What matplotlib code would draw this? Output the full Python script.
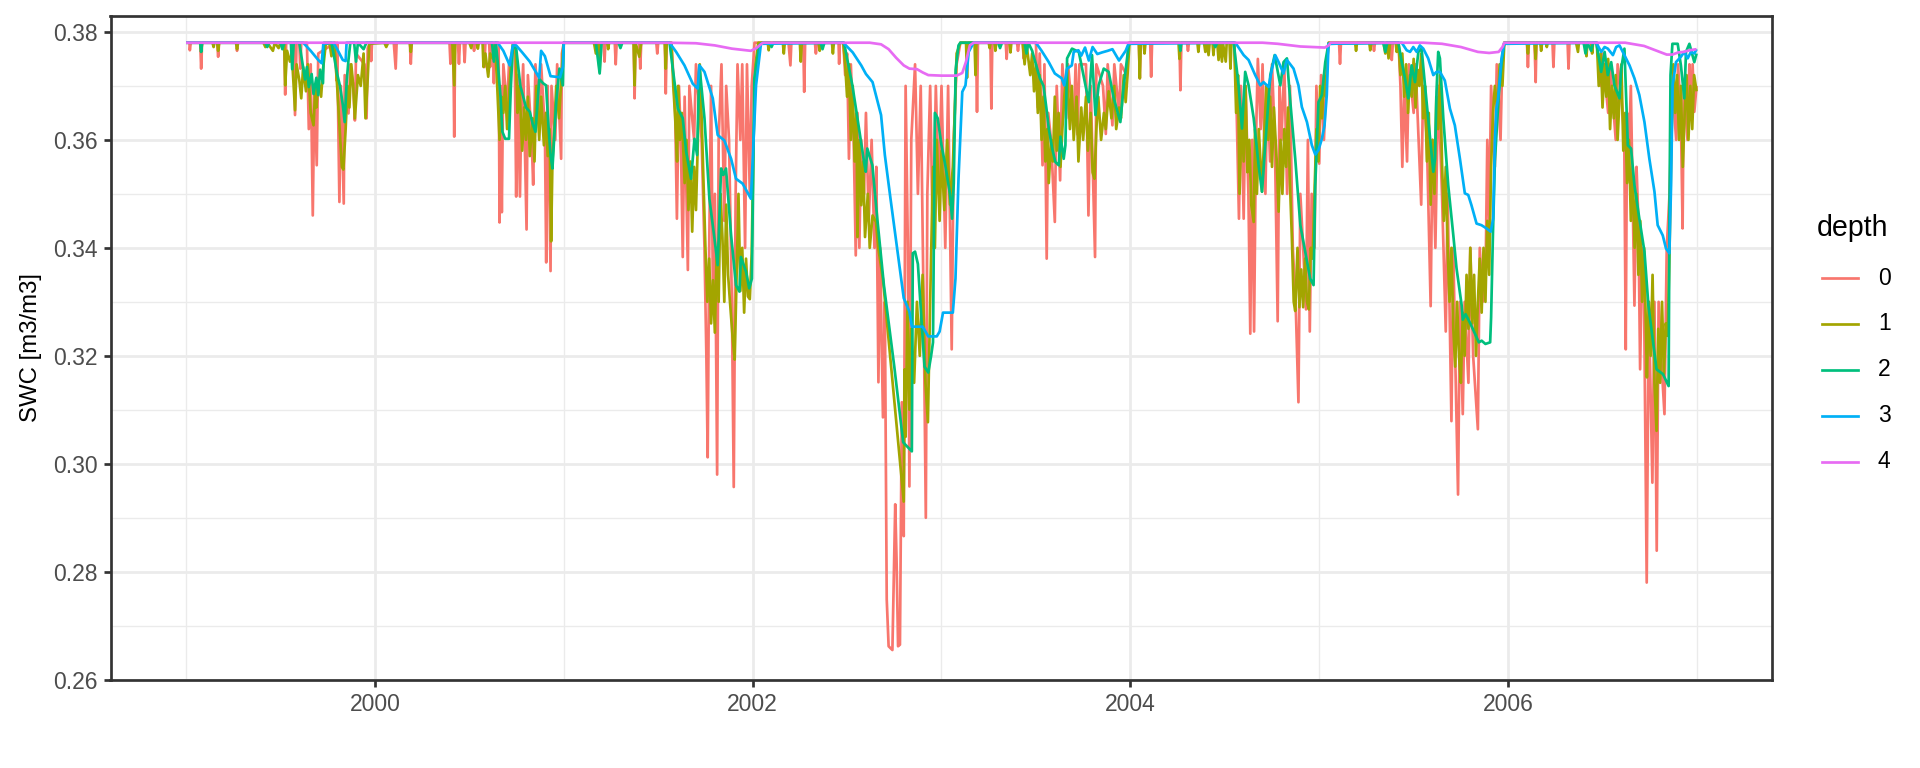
import matplotlib
matplotlib.use("Agg")
import matplotlib.pyplot as plt
from matplotlib.lines import Line2D
from matplotlib.ticker import FixedLocator, FixedFormatter

plt.rcParams['font.family'] = ['Liberation Sans', 'DejaVu Sans']

depth_labels = ["0", "1", "2", "3", "4"]
colors = ["#F8766D", "#A3A500", "#00BF7D", "#00B0F6", "#E76BF3"]
x_major = [2000, 2002, 2004, 2006]
x_minor = [1999, 2001, 2003, 2005, 2007]
y_major = [0.26, 0.28, 0.30, 0.32, 0.34, 0.36, 0.38]
y_minor = [0.27, 0.29, 0.31, 0.33, 0.35, 0.37]

# (decimal year, SWC)
depth0 = [
    (1999.0, 0.378), (1999.018, 0.378), (1999.02, 0.3766), (1999.025, 0.378), (1999.075, 0.378), (1999.08, 0.3732), (1999.085, 0.378),
    (1999.165, 0.378), (1999.17, 0.3754), (1999.175, 0.378), (1999.265, 0.378), (1999.27, 0.3765), (1999.275, 0.378),
    (1999.52, 0.378), (1999.525, 0.3684), (1999.53, 0.378), (1999.57, 0.378), (1999.577, 0.3646), (1999.585, 0.378),
    (1999.60, 0.378), (1999.605, 0.3732), (1999.61, 0.378), (1999.64, 0.378), (1999.65, 0.3620), (1999.66, 0.3740),
    (1999.671, 0.3460), (1999.68, 0.3700), (1999.692, 0.3553), (1999.70, 0.3760), (1999.79, 0.378), (1999.797, 0.3710),
    (1999.80, 0.378), (1999.812, 0.3485), (1999.82, 0.3700), (1999.835, 0.3482), (1999.84, 0.3720), (1999.86, 0.3649),
    (1999.87, 0.3740), (1999.885, 0.3700), (1999.894, 0.3636), (1999.90, 0.3760), (1999.945, 0.3740), (1999.956, 0.3640),
    (1999.962, 0.3770), (1999.975, 0.378), (1999.98, 0.3746), (1999.985, 0.378),
    (2000.10, 0.378), (2000.11, 0.3732), (2000.115, 0.378), (2000.185, 0.378), (2000.19, 0.3741), (2000.195, 0.378),
    (2000.395, 0.378), (2000.40, 0.3741), (2000.405, 0.378), (2000.415, 0.378), (2000.42, 0.3606), (2000.425, 0.378),
    (2000.44, 0.378), (2000.445, 0.3741), (2000.45, 0.378), (2000.47, 0.378), (2000.475, 0.3744), (2000.48, 0.378),
    (2000.52, 0.378), (2000.525, 0.3765), (2000.53, 0.378), (2000.575, 0.378), (2000.58, 0.3735), (2000.585, 0.378),
    (2000.605, 0.378), (2000.61, 0.3735), (2000.615, 0.378), (2000.625, 0.378), (2000.63, 0.3705), (2000.635, 0.378),
    (2000.655, 0.378), (2000.66, 0.3447), (2000.665, 0.3700), (2000.672, 0.3466), (2000.68, 0.3740), (2000.70, 0.3660),
    (2000.71, 0.3740), (2000.74, 0.378), (2000.748, 0.3495), (2000.755, 0.3720), (2000.768, 0.3495), (2000.775, 0.3650),
    (2000.785, 0.3740), (2000.803, 0.3434), (2000.81, 0.3720), (2000.83, 0.3600), (2000.838, 0.3517), (2000.85, 0.3740),
    (2000.87, 0.3640), (2000.88, 0.3740), (2000.90, 0.3620), (2000.907, 0.3373), (2000.915, 0.3700), (2000.93, 0.3357),
    (2000.935, 0.3700), (2000.955, 0.3600), (2000.965, 0.3740), (2000.986, 0.3565), (2000.99, 0.3760), (2001.0, 0.378),
    (2001.18, 0.378), (2001.19, 0.3740), (2001.195, 0.378), (2001.21, 0.378), (2001.216, 0.3745), (2001.22, 0.378),
    (2001.27, 0.378), (2001.275, 0.3740), (2001.28, 0.378), (2001.37, 0.378), (2001.375, 0.3677), (2001.38, 0.378),
    (2001.40, 0.378), (2001.405, 0.3732), (2001.41, 0.378), (2001.49, 0.378), (2001.495, 0.3760), (2001.50, 0.378),
    (2001.535, 0.378), (2001.54, 0.3686), (2001.545, 0.378),
    (2001.57, 0.378), (2001.58, 0.3720), (2001.59, 0.3650), (2001.599, 0.3454), (2001.61, 0.3700), (2001.62, 0.3600),
    (2001.63, 0.3383), (2001.64, 0.3680), (2001.657, 0.3359), (2001.665, 0.3700), (2001.69, 0.3600), (2001.70, 0.3740),
    (2001.73, 0.3600), (2001.745, 0.3400), (2001.755, 0.3200), (2001.762, 0.3012), (2001.77, 0.3400), (2001.78, 0.3700),
    (2001.79, 0.3300), (2001.80, 0.3500), (2001.812, 0.2980), (2001.82, 0.3600), (2001.835, 0.3740), (2001.85, 0.3450),
    (2001.86, 0.3700), (2001.875, 0.3600), (2001.89, 0.3300), (2001.90, 0.2957), (2001.91, 0.3500), (2001.92, 0.3740),
    (2001.935, 0.3600), (2001.945, 0.3740), (2001.96, 0.3400), (2001.97, 0.3740), (2001.985, 0.3500), (2001.995, 0.3700),
    (2002.01, 0.378),
    (2002.19, 0.378), (2002.20, 0.3738), (2002.205, 0.378), (2002.268, 0.378), (2002.273, 0.3689), (2002.278, 0.378),
    (2002.33, 0.378), (2002.335, 0.3760), (2002.34, 0.378), (2002.455, 0.378), (2002.458, 0.3741), (2002.462, 0.378),
    (2002.48, 0.378), (2002.49, 0.3720), (2002.50, 0.3760), (2002.51, 0.3565), (2002.52, 0.3740), (2002.535, 0.3600),
    (2002.546, 0.3386), (2002.555, 0.3650), (2002.565, 0.3400), (2002.575, 0.3600), (2002.59, 0.3500), (2002.60, 0.3650),
    (2002.615, 0.3450), (2002.63, 0.3600), (2002.645, 0.3400), (2002.655, 0.3550), (2002.666, 0.3151), (2002.675, 0.3400),
    (2002.69, 0.3086), (2002.70, 0.3300), (2002.71, 0.2749), (2002.72, 0.2662), (2002.74, 0.2655), (2002.755, 0.2925),
    (2002.762, 0.2824), (2002.77, 0.2662), (2002.78, 0.2665), (2002.79, 0.3114), (2002.80, 0.2866), (2002.81, 0.3700),
    (2002.822, 0.3400), (2002.83, 0.2958), (2002.84, 0.3600), (2002.86, 0.3740), (2002.875, 0.3500), (2002.89, 0.3700),
    (2002.905, 0.3300), (2002.917, 0.2900), (2002.925, 0.3500), (2002.94, 0.3700), (2002.955, 0.3400), (2002.97, 0.3700),
    (2002.985, 0.3500), (2003.00, 0.3700), (2003.02, 0.3400), (2003.035, 0.3700), (2003.054, 0.3212), (2003.065, 0.3600),
    (2003.08, 0.3740), (2003.10, 0.378),
    (2003.183, 0.378), (2003.188, 0.3652), (2003.193, 0.378), (2003.259, 0.378), (2003.264, 0.3658), (2003.269, 0.378),
    (2003.34, 0.378), (2003.345, 0.3750), (2003.35, 0.378), (2003.40, 0.378), (2003.405, 0.3765), (2003.41, 0.378),
    (2003.43, 0.378), (2003.435, 0.3751), (2003.44, 0.378), (2003.50, 0.378), (2003.51, 0.3660), (2003.52, 0.3760),
    (2003.535, 0.3553), (2003.545, 0.3740), (2003.557, 0.3380), (2003.565, 0.3650), (2003.58, 0.3600), (2003.60, 0.3448),
    (2003.61, 0.3700), (2003.628, 0.3525), (2003.64, 0.3740), (2003.66, 0.3640), (2003.67, 0.3740), (2003.70, 0.3618),
    (2003.71, 0.3740), (2003.72, 0.3610), (2003.73, 0.3740), (2003.765, 0.3740), (2003.778, 0.3460), (2003.79, 0.3700),
    (2003.813, 0.3383), (2003.82, 0.3740), (2003.855, 0.3700), (2003.87, 0.3611), (2003.88, 0.3740), (2003.905, 0.3627),
    (2003.915, 0.3740), (2003.94, 0.3650), (2003.95, 0.3740), (2003.98, 0.3720), (2003.99, 0.378),
    (2004.045, 0.378), (2004.05, 0.3714), (2004.055, 0.378), (2004.105, 0.378), (2004.11, 0.3717), (2004.115, 0.378),
    (2004.26, 0.378), (2004.265, 0.3692), (2004.27, 0.378), (2004.30, 0.378), (2004.305, 0.3765), (2004.31, 0.378),
    (2004.55, 0.378), (2004.56, 0.3700), (2004.575, 0.3454), (2004.585, 0.3700), (2004.60, 0.3454), (2004.61, 0.3700),
    (2004.625, 0.3500), (2004.635, 0.3241), (2004.645, 0.3600), (2004.655, 0.3245), (2004.665, 0.3600), (2004.675, 0.3750),
    (2004.69, 0.3620), (2004.70, 0.3740), (2004.715, 0.3500), (2004.725, 0.3700), (2004.74, 0.3560), (2004.75, 0.3740),
    (2004.765, 0.3600), (2004.78, 0.3264), (2004.79, 0.3700), (2004.80, 0.3600), (2004.815, 0.3740), (2004.83, 0.3500),
    (2004.845, 0.3700), (2004.86, 0.3400), (2004.875, 0.3300), (2004.89, 0.3114), (2004.90, 0.3500), (2004.915, 0.3400),
    (2004.93, 0.3286), (2004.94, 0.3600), (2004.95, 0.3245), (2004.96, 0.3500), (2004.975, 0.3400), (2004.985, 0.3700),
    (2005.00, 0.3556), (2005.01, 0.3720), (2005.025, 0.3600), (2005.04, 0.3740), (2005.05, 0.378),
    (2005.105, 0.378), (2005.11, 0.3741), (2005.115, 0.378), (2005.285, 0.378), (2005.29, 0.3765), (2005.295, 0.378),
    (2005.38, 0.378), (2005.384, 0.3748), (2005.39, 0.378),
    (2005.42, 0.378), (2005.43, 0.3700), (2005.44, 0.3550), (2005.45, 0.3700), (2005.465, 0.3560), (2005.475, 0.3740),
    (2005.50, 0.3650), (2005.51, 0.3740), (2005.54, 0.3480), (2005.55, 0.3700), (2005.57, 0.3600), (2005.59, 0.3292),
    (2005.60, 0.3600), (2005.615, 0.3400), (2005.63, 0.3700), (2005.65, 0.3500), (2005.67, 0.3245), (2005.68, 0.3500),
    (2005.70, 0.3079), (2005.71, 0.3400), (2005.72, 0.3200), (2005.735, 0.2943), (2005.745, 0.3300), (2005.76, 0.3092),
    (2005.77, 0.3300), (2005.79, 0.3150), (2005.80, 0.3400), (2005.815, 0.3200), (2005.84, 0.3064), (2005.85, 0.3400),
    (2005.865, 0.3300), (2005.88, 0.3330), (2005.89, 0.3600), (2005.90, 0.3450), (2005.91, 0.3700), (2005.93, 0.3550),
    (2005.94, 0.3740), (2005.96, 0.3600), (2005.97, 0.3760), (2005.98, 0.378),
    (2006.10, 0.378), (2006.105, 0.3735), (2006.11, 0.378), (2006.14, 0.378), (2006.146, 0.3707), (2006.15, 0.378),
    (2006.235, 0.378), (2006.24, 0.3735), (2006.245, 0.378), (2006.315, 0.378), (2006.32, 0.3732), (2006.325, 0.378),
    (2006.47, 0.378), (2006.49, 0.3700), (2006.50, 0.3760), (2006.53, 0.3650), (2006.54, 0.3740), (2006.57, 0.3600),
    (2006.58, 0.3740), (2006.60, 0.3680), (2006.615, 0.3606), (2006.623, 0.3212), (2006.63, 0.3650), (2006.64, 0.3578),
    (2006.65, 0.3700), (2006.669, 0.3293), (2006.68, 0.3550), (2006.69, 0.3450), (2006.699, 0.3175), (2006.71, 0.3400),
    (2006.72, 0.3300), (2006.734, 0.2780), (2006.745, 0.3300), (2006.764, 0.2965), (2006.775, 0.3300), (2006.787, 0.2839),
    (2006.797, 0.3300), (2006.81, 0.3200), (2006.828, 0.3092), (2006.84, 0.3400), (2006.855, 0.3500), (2006.87, 0.3700),
    (2006.89, 0.3600), (2006.90, 0.3740), (2006.915, 0.3640), (2006.924, 0.3436), (2006.93, 0.3700), (2006.95, 0.3600),
    (2006.96, 0.3740), (2006.968, 0.3655), (2006.977, 0.3740), (2006.986, 0.3652), (2006.998, 0.3700),
]

depth1 = [
    (1999.0, 0.378), (1999.075, 0.378), (1999.08, 0.3763), (1999.085, 0.378), (1999.14, 0.378), (1999.146, 0.3772),
    (1999.15, 0.378), (1999.165, 0.378), (1999.17, 0.3765), (1999.175, 0.378), (1999.265, 0.378), (1999.27, 0.3768),
    (1999.275, 0.378), (1999.41, 0.378), (1999.42, 0.3772), (1999.43, 0.378), (1999.46, 0.3765), (1999.47, 0.378),
    (1999.49, 0.3770), (1999.50, 0.378), (1999.52, 0.378), (1999.525, 0.3701), (1999.535, 0.3765), (1999.55, 0.3745),
    (1999.56, 0.3760), (1999.577, 0.3655), (1999.585, 0.3740), (1999.60, 0.3710), (1999.61, 0.3677), (1999.62, 0.3735),
    (1999.635, 0.3690), (1999.645, 0.3740), (1999.66, 0.3650), (1999.675, 0.3627), (1999.685, 0.3700), (1999.69, 0.3660),
    (1999.70, 0.3710), (1999.715, 0.3680), (1999.725, 0.3730), (1999.74, 0.3778), (1999.76, 0.3778), (1999.77, 0.3755),
    (1999.785, 0.378), (1999.80, 0.3700), (1999.81, 0.3640), (1999.825, 0.3550), (1999.833, 0.3545), (1999.845, 0.3620),
    (1999.855, 0.3700), (1999.865, 0.3660), (1999.875, 0.3740), (1999.885, 0.3700), (1999.894, 0.3640), (1999.91, 0.3720),
    (1999.925, 0.3700), (1999.94, 0.3760), (1999.95, 0.3640), (1999.96, 0.3700), (1999.97, 0.3778),
    (2000.05, 0.378), (2000.06, 0.3772), (2000.07, 0.378), (2000.185, 0.378), (2000.19, 0.3763), (2000.195, 0.378),
    (2000.41, 0.378), (2000.42, 0.3701), (2000.425, 0.378), (2000.50, 0.378), (2000.51, 0.3770), (2000.515, 0.378),
    (2000.54, 0.378), (2000.545, 0.3769), (2000.55, 0.378), (2000.57, 0.378), (2000.575, 0.3735), (2000.585, 0.3760),
    (2000.60, 0.3717), (2000.61, 0.3760), (2000.625, 0.3750), (2000.635, 0.3778), (2000.645, 0.3720), (2000.66, 0.3600),
    (2000.67, 0.3680), (2000.68, 0.3650), (2000.69, 0.3700), (2000.70, 0.3620), (2000.71, 0.3680), (2000.72, 0.3740),
    (2000.73, 0.3778), (2000.745, 0.3770), (2000.755, 0.3650), (2000.765, 0.3700), (2000.78, 0.3580), (2000.79, 0.3660),
    (2000.80, 0.3600), (2000.81, 0.3680), (2000.82, 0.3570), (2000.835, 0.3640), (2000.845, 0.3560), (2000.855, 0.3700),
    (2000.87, 0.3600), (2000.88, 0.3680), (2000.895, 0.3590), (2000.905, 0.3650), (2000.915, 0.3570), (2000.925, 0.3620),
    (2000.933, 0.3412), (2000.94, 0.3560), (2000.95, 0.3620), (2000.96, 0.3700), (2000.975, 0.3640), (2000.985, 0.3700),
    (2000.995, 0.3760), (2001.0, 0.378),
    (2001.16, 0.378), (2001.17, 0.3760), (2001.18, 0.378), (2001.19, 0.3726), (2001.195, 0.378), (2001.23, 0.378),
    (2001.235, 0.3768), (2001.24, 0.378), (2001.37, 0.378), (2001.375, 0.3701), (2001.38, 0.378), (2001.40, 0.3754),
    (2001.41, 0.378), (2001.535, 0.378), (2001.54, 0.3732), (2001.545, 0.378),
    (2001.57, 0.378), (2001.58, 0.3700), (2001.59, 0.3640), (2001.60, 0.3560), (2001.605, 0.3700), (2001.615, 0.3600),
    (2001.625, 0.3650), (2001.64, 0.3520), (2001.65, 0.3600), (2001.66, 0.3470), (2001.67, 0.3560), (2001.68, 0.3430),
    (2001.69, 0.3550), (2001.70, 0.3470), (2001.71, 0.3600), (2001.72, 0.3740), (2001.73, 0.3640), (2001.74, 0.3520),
    (2001.75, 0.3400), (2001.76, 0.3300), (2001.77, 0.3380), (2001.78, 0.3260), (2001.79, 0.3340), (2001.80, 0.3243),
    (2001.81, 0.3400), (2001.82, 0.3300), (2001.83, 0.3500), (2001.84, 0.3420), (2001.85, 0.3300), (2001.86, 0.3480),
    (2001.87, 0.3350), (2001.88, 0.3300), (2001.895, 0.3230), (2001.905, 0.3193), (2001.915, 0.3350), (2001.925, 0.3500),
    (2001.935, 0.3320), (2001.945, 0.3400), (2001.955, 0.3280), (2001.965, 0.3380), (2001.975, 0.3310), (2001.985, 0.3305),
    (2001.995, 0.3390), (2002.005, 0.3600), (2002.015, 0.3740), (2002.03, 0.378),
    (2002.08, 0.378), (2002.085, 0.3766), (2002.09, 0.378), (2002.16, 0.378), (2002.165, 0.3760), (2002.17, 0.378),
    (2002.25, 0.378), (2002.255, 0.3745), (2002.26, 0.378), (2002.35, 0.378), (2002.355, 0.3765), (2002.36, 0.378),
    (2002.42, 0.378), (2002.425, 0.3760), (2002.43, 0.378),
    (2002.48, 0.378), (2002.49, 0.3740), (2002.50, 0.3680), (2002.51, 0.3740), (2002.52, 0.3600), (2002.53, 0.3700),
    (2002.54, 0.3560), (2002.55, 0.3650), (2002.555, 0.3420), (2002.565, 0.3600), (2002.575, 0.3479), (2002.585, 0.3560),
    (2002.595, 0.3420), (2002.61, 0.3500), (2002.62, 0.3400), (2002.635, 0.3460), (2002.653, 0.3448), (2002.665, 0.3400),
    (2002.69, 0.3342), (2002.80, 0.2930), (2002.805, 0.3175), (2002.81, 0.3050), (2002.82, 0.3300), (2002.83, 0.3100),
    (2002.84, 0.3250), (2002.855, 0.3150), (2002.87, 0.3300), (2002.885, 0.3200), (2002.90, 0.3350), (2002.915, 0.3150),
    (2002.928, 0.3077), (2002.94, 0.3300), (2002.955, 0.3550), (2002.965, 0.3400), (2002.975, 0.3600), (2002.99, 0.3450),
    (2003.00, 0.3580), (2003.015, 0.3470), (2003.03, 0.3600), (2003.045, 0.3480), (2003.06, 0.3550), (2003.07, 0.3650),
    (2003.08, 0.3760), (2003.10, 0.378),
    (2003.13, 0.378), (2003.135, 0.3715), (2003.14, 0.378), (2003.175, 0.378), (2003.18, 0.3720), (2003.185, 0.378),
    (2003.25, 0.378), (2003.255, 0.3770), (2003.26, 0.378), (2003.28, 0.378), (2003.285, 0.3765), (2003.29, 0.378),
    (2003.36, 0.378), (2003.365, 0.3762), (2003.37, 0.378),
    (2003.43, 0.378), (2003.44, 0.3740), (2003.45, 0.3778), (2003.47, 0.3720), (2003.48, 0.3760), (2003.49, 0.3690),
    (2003.50, 0.3740), (2003.51, 0.3650), (2003.52, 0.3720), (2003.53, 0.3600), (2003.54, 0.3680), (2003.55, 0.3560),
    (2003.56, 0.3620), (2003.568, 0.3520), (2003.58, 0.3600), (2003.59, 0.3560), (2003.60, 0.3680), (2003.61, 0.3580),
    (2003.62, 0.3650), (2003.63, 0.3550), (2003.64, 0.3620), (2003.65, 0.3680), (2003.665, 0.3730), (2003.68, 0.3620),
    (2003.69, 0.3700), (2003.70, 0.3600), (2003.715, 0.3680), (2003.725, 0.3560), (2003.74, 0.3660), (2003.75, 0.3600),
    (2003.765, 0.3680), (2003.775, 0.3580), (2003.79, 0.3650), (2003.80, 0.3540), (2003.81, 0.3528), (2003.82, 0.3620),
    (2003.83, 0.3680), (2003.845, 0.3600), (2003.86, 0.3650), (2003.87, 0.3620), (2003.885, 0.3690), (2003.90, 0.3640),
    (2003.915, 0.3700), (2003.925, 0.3620), (2003.94, 0.3660), (2003.95, 0.3640), (2003.965, 0.3720), (2003.975, 0.3670),
    (2003.985, 0.3720), (2003.995, 0.3778),
    (2004.045, 0.378), (2004.05, 0.3714), (2004.055, 0.378), (2004.07, 0.378), (2004.075, 0.3760), (2004.08, 0.378),
    (2004.255, 0.378), (2004.26, 0.3750), (2004.265, 0.378), (2004.355, 0.378), (2004.36, 0.3763), (2004.365, 0.378),
    (2004.39, 0.378), (2004.397, 0.3763), (2004.405, 0.378), (2004.414, 0.3757), (2004.42, 0.378), (2004.435, 0.378),
    (2004.44, 0.3757), (2004.445, 0.378), (2004.46, 0.378), (2004.467, 0.3748), (2004.475, 0.378), (2004.485, 0.3745),
    (2004.49, 0.378), (2004.505, 0.3745), (2004.51, 0.378), (2004.525, 0.378), (2004.53, 0.3732), (2004.535, 0.378),
    (2004.55, 0.378), (2004.56, 0.3650), (2004.57, 0.3720), (2004.578, 0.3500), (2004.59, 0.3650), (2004.60, 0.3560),
    (2004.61, 0.3700), (2004.62, 0.3540), (2004.63, 0.3600), (2004.64, 0.3480), (2004.653, 0.3448), (2004.66, 0.3620),
    (2004.67, 0.3500), (2004.68, 0.3620), (2004.697, 0.3504), (2004.71, 0.3620), (2004.72, 0.3700), (2004.73, 0.3600),
    (2004.74, 0.3680), (2004.75, 0.3550), (2004.76, 0.3660), (2004.775, 0.3560), (2004.785, 0.3467), (2004.795, 0.3600),
    (2004.805, 0.3500), (2004.815, 0.3620), (2004.825, 0.3550), (2004.835, 0.3660), (2004.845, 0.3520), (2004.855, 0.3420),
    (2004.865, 0.3300), (2004.873, 0.3283), (2004.885, 0.3400), (2004.895, 0.3290), (2004.905, 0.3360), (2004.915, 0.3290),
    (2004.925, 0.3380), (2004.935, 0.3300), (2004.945, 0.3286), (2004.955, 0.3400), (2004.965, 0.3380), (2004.975, 0.3500),
    (2004.985, 0.3620), (2004.995, 0.3560), (2005.005, 0.3700), (2005.015, 0.3640), (2005.025, 0.3720), (2005.035, 0.3680),
    (2005.045, 0.3760), (2005.05, 0.378),
    (2005.19, 0.378), (2005.195, 0.3765), (2005.20, 0.378), (2005.265, 0.378), (2005.27, 0.3766), (2005.275, 0.378),
    (2005.34, 0.378), (2005.35, 0.3760), (2005.355, 0.378), (2005.36, 0.378), (2005.367, 0.3751), (2005.375, 0.378),
    (2005.405, 0.378), (2005.41, 0.3763), (2005.415, 0.378),
    (2005.42, 0.378), (2005.43, 0.3720), (2005.44, 0.3760), (2005.45, 0.3680), (2005.46, 0.3740), (2005.47, 0.3650),
    (2005.48, 0.3720), (2005.49, 0.3680), (2005.50, 0.3750), (2005.51, 0.3660), (2005.52, 0.3730), (2005.53, 0.3700),
    (2005.54, 0.3760), (2005.55, 0.3640), (2005.56, 0.3700), (2005.57, 0.3560), (2005.58, 0.3650), (2005.59, 0.3480),
    (2005.60, 0.3600), (2005.61, 0.3500), (2005.62, 0.3680), (2005.63, 0.3620), (2005.64, 0.3720), (2005.65, 0.3560),
    (2005.66, 0.3450), (2005.67, 0.3550), (2005.68, 0.3400), (2005.69, 0.3300), (2005.70, 0.3400), (2005.71, 0.3250),
    (2005.72, 0.3180), (2005.73, 0.3300), (2005.74, 0.3200), (2005.75, 0.3150), (2005.76, 0.3280), (2005.77, 0.3200),
    (2005.78, 0.3350), (2005.79, 0.3250), (2005.80, 0.3400), (2005.81, 0.3260), (2005.82, 0.3350), (2005.83, 0.3200),
    (2005.84, 0.3300), (2005.85, 0.3380), (2005.86, 0.3280), (2005.87, 0.3400), (2005.88, 0.3300), (2005.89, 0.3450),
    (2005.90, 0.3350), (2005.91, 0.3550), (2005.92, 0.3650), (2005.93, 0.3700), (2005.945, 0.3650), (2005.955, 0.3740),
    (2005.97, 0.3700), (2005.98, 0.378),
    (2006.10, 0.378), (2006.105, 0.3760), (2006.11, 0.378), (2006.14, 0.378), (2006.146, 0.3750), (2006.15, 0.378),
    (2006.17, 0.378), (2006.175, 0.3765), (2006.18, 0.378), (2006.20, 0.378), (2006.205, 0.3772), (2006.21, 0.378),
    (2006.36, 0.378), (2006.37, 0.3763), (2006.375, 0.378), (2006.41, 0.378), (2006.415, 0.3755), (2006.42, 0.378),
    (2006.44, 0.378), (2006.445, 0.3760), (2006.45, 0.378),
    (2006.47, 0.378), (2006.48, 0.3700), (2006.49, 0.3760), (2006.50, 0.3660), (2006.51, 0.3740), (2006.52, 0.3680),
    (2006.53, 0.3750), (2006.54, 0.3620), (2006.55, 0.3700), (2006.56, 0.3640), (2006.57, 0.3720), (2006.58, 0.3600),
    (2006.59, 0.3680), (2006.60, 0.3740), (2006.61, 0.3580), (2006.62, 0.3650), (2006.63, 0.3520), (2006.64, 0.3600),
    (2006.65, 0.3450), (2006.66, 0.3550), (2006.67, 0.3400), (2006.68, 0.3500), (2006.69, 0.3350), (2006.70, 0.3450),
    (2006.71, 0.3300), (2006.72, 0.3400), (2006.73, 0.3250), (2006.735, 0.3160), (2006.745, 0.3300), (2006.755, 0.3200),
    (2006.765, 0.3350), (2006.775, 0.3150), (2006.786, 0.3061), (2006.795, 0.3250), (2006.805, 0.3150), (2006.815, 0.3300),
    (2006.825, 0.3166), (2006.835, 0.3260), (2006.845, 0.3237), (2006.855, 0.3400), (2006.865, 0.3600), (2006.875, 0.3740),
    (2006.885, 0.3650), (2006.895, 0.3720), (2006.905, 0.3600), (2006.915, 0.3700), (2006.925, 0.3550), (2006.935, 0.3650),
    (2006.945, 0.3720), (2006.955, 0.3600), (2006.965, 0.3700), (2006.975, 0.3620), (2006.985, 0.3720), (2006.998, 0.3690),
]

depth2 = [
    (1999.0, 0.378), (1999.075, 0.378), (1999.08, 0.3763), (1999.085, 0.378), (1999.42, 0.378), (1999.43, 0.3772),
    (1999.44, 0.378), (1999.50, 0.378), (1999.51, 0.3768), (1999.52, 0.378), (1999.555, 0.378), (1999.562, 0.3731),
    (1999.57, 0.378), (1999.60, 0.378), (1999.615, 0.3745), (1999.63, 0.3712), (1999.64, 0.3735), (1999.65, 0.3698),
    (1999.665, 0.3722), (1999.675, 0.3685), (1999.69, 0.3715), (1999.70, 0.3683), (1999.71, 0.3730), (1999.725, 0.3705),
    (1999.73, 0.378), (1999.77, 0.378), (1999.785, 0.3752), (1999.80, 0.3722), (1999.815, 0.3700), (1999.83, 0.3665),
    (1999.84, 0.3633), (1999.85, 0.3705), (1999.86, 0.3748), (1999.87, 0.378), (1999.89, 0.378), (1999.90, 0.3745),
    (1999.91, 0.378), (1999.94, 0.3768), (1999.955, 0.378),
    (2000.62, 0.378), (2000.63, 0.3745), (2000.64, 0.378), (2000.65, 0.3745), (2000.665, 0.3680), (2000.675, 0.3615),
    (2000.69, 0.3602), (2000.71, 0.3602), (2000.72, 0.3700), (2000.73, 0.3770), (2000.748, 0.3770), (2000.77, 0.3700),
    (2000.80, 0.3660), (2000.82, 0.3652), (2000.835, 0.3630), (2000.85, 0.3615), (2000.87, 0.3713), (2000.89, 0.3705),
    (2000.906, 0.3701), (2000.92, 0.3620), (2000.93, 0.3572), (2000.94, 0.3547), (2000.96, 0.3670), (2000.977, 0.3732),
    (2000.995, 0.3701), (2001.0, 0.378),
    (2001.17, 0.378), (2001.19, 0.3723), (2001.20, 0.378), (2001.29, 0.378), (2001.30, 0.3770), (2001.31, 0.378),
    (2001.56, 0.378), (2001.604, 0.3658), (2001.63, 0.3640), (2001.648, 0.3578), (2001.674, 0.3528), (2001.692, 0.3602),
    (2001.706, 0.3572), (2001.718, 0.3738), (2001.745, 0.3640), (2001.771, 0.3491), (2001.798, 0.3417), (2001.815, 0.3368),
    (2001.833, 0.3547), (2001.845, 0.3535), (2001.859, 0.3547), (2001.886, 0.3423), (2001.912, 0.3331), (2001.93, 0.3319),
    (2001.938, 0.3383), (2001.965, 0.3356), (2001.982, 0.3325), (2001.996, 0.3343), (2002.009, 0.3714), (2002.035, 0.3775),
    (2002.053, 0.378),
    (2002.09, 0.378), (2002.10, 0.3772), (2002.11, 0.378), (2002.36, 0.378), (2002.37, 0.3768), (2002.38, 0.378),
    (2002.484, 0.378), (2002.528, 0.3701), (2002.555, 0.3640), (2002.59, 0.3559), (2002.599, 0.3541), (2002.607, 0.3584),
    (2002.634, 0.3553), (2002.66, 0.3454), (2002.695, 0.3331), (2002.75, 0.3180), (2002.797, 0.3040), (2002.81, 0.3035),
    (2002.843, 0.3023), (2002.848, 0.3390), (2002.86, 0.3393), (2002.875, 0.3370), (2002.895, 0.3260), (2002.91, 0.3180),
    (2002.93, 0.3169), (2002.945, 0.3200), (2002.955, 0.3225), (2002.965, 0.3650), (2002.98, 0.3640), (2003.00, 0.3590),
    (2003.02, 0.3553), (2003.045, 0.3500), (2003.056, 0.3454), (2003.065, 0.3520), (2003.075, 0.3730), (2003.09, 0.3775),
    (2003.10, 0.378),
    (2003.30, 0.378), (2003.31, 0.3770), (2003.32, 0.378), (2003.44, 0.378), (2003.45, 0.3760), (2003.46, 0.378),
    (2003.48, 0.3765), (2003.50, 0.3740), (2003.52, 0.3715), (2003.54, 0.3700), (2003.555, 0.3660), (2003.568, 0.3621),
    (2003.586, 0.3584), (2003.603, 0.3559), (2003.621, 0.3553), (2003.63, 0.3606), (2003.647, 0.3565), (2003.656, 0.3590),
    (2003.665, 0.3751), (2003.691, 0.3769), (2003.727, 0.3763), (2003.762, 0.3701), (2003.78, 0.3670), (2003.797, 0.3757),
    (2003.815, 0.3646), (2003.832, 0.3701), (2003.859, 0.3732), (2003.885, 0.3726), (2003.912, 0.3677), (2003.947, 0.3633),
    (2003.965, 0.3701), (2003.991, 0.3775), (2004.0, 0.378),
    (2004.26, 0.378), (2004.265, 0.3765), (2004.27, 0.378), (2004.44, 0.378), (2004.45, 0.3772), (2004.46, 0.378),
    (2004.547, 0.378), (2004.573, 0.3701), (2004.591, 0.3621), (2004.608, 0.3726), (2004.626, 0.3701), (2004.653, 0.3640),
    (2004.679, 0.3553), (2004.697, 0.3504), (2004.714, 0.3590), (2004.741, 0.3720), (2004.764, 0.3757), (2004.794, 0.3701),
    (2004.811, 0.3744), (2004.829, 0.3751), (2004.847, 0.3670), (2004.873, 0.3565), (2004.90, 0.3442), (2004.926, 0.3393),
    (2004.952, 0.3343), (2004.97, 0.3331), (2004.979, 0.3516), (2004.996, 0.3670), (2005.014, 0.3683), (2005.032, 0.3744),
    (2005.049, 0.3778),
    (2005.34, 0.378), (2005.35, 0.3763), (2005.36, 0.378),
    (2005.419, 0.378), (2005.437, 0.3744), (2005.454, 0.3714), (2005.472, 0.3677), (2005.489, 0.3738), (2005.507, 0.3707),
    (2005.525, 0.3763), (2005.542, 0.3769), (2005.56, 0.3701), (2005.577, 0.3640), (2005.604, 0.3541), (2005.613, 0.3565),
    (2005.621, 0.3689), (2005.63, 0.3763), (2005.639, 0.3751), (2005.657, 0.3640), (2005.683, 0.3516), (2005.71, 0.3423),
    (2005.727, 0.3362), (2005.754, 0.3294), (2005.76, 0.3267), (2005.775, 0.3277), (2005.80, 0.3260), (2005.845, 0.3225),
    (2005.86, 0.3228), (2005.88, 0.3222), (2005.905, 0.3225), (2005.91, 0.3271), (2005.92, 0.3429), (2005.93, 0.3560),
    (2005.95, 0.3680), (2005.965, 0.3740), (2005.98, 0.378),
    (2006.40, 0.378), (2006.41, 0.3760), (2006.42, 0.378), (2006.44, 0.3765), (2006.45, 0.378),
    (2006.467, 0.378), (2006.493, 0.3726), (2006.511, 0.3763), (2006.528, 0.3720), (2006.546, 0.3744), (2006.563, 0.3701),
    (2006.59, 0.3677), (2006.599, 0.3732), (2006.616, 0.3769), (2006.634, 0.3590), (2006.651, 0.3584), (2006.669, 0.3516),
    (2006.695, 0.3454), (2006.722, 0.3393), (2006.743, 0.3293), (2006.786, 0.3175), (2006.82, 0.3166), (2006.85, 0.3144),
    (2006.855, 0.3500), (2006.86, 0.3720), (2006.87, 0.3778), (2006.898, 0.3778), (2006.915, 0.3738), (2006.933, 0.3677),
    (2006.942, 0.3763), (2006.96, 0.3778), (2006.986, 0.3744), (2006.998, 0.3760),
]

depth3 = [
    (1999.0, 0.378), (1999.62, 0.378), (1999.66, 0.3765), (1999.70, 0.3748), (1999.718, 0.3742), (1999.727, 0.3778),
    (1999.78, 0.378), (1999.80, 0.3768), (1999.83, 0.3748), (1999.845, 0.3746), (1999.85, 0.378),
    (2000.65, 0.378), (2000.68, 0.3765), (2000.714, 0.3738), (2000.73, 0.3775), (2000.748, 0.3775), (2000.78, 0.3762),
    (2000.82, 0.3745), (2000.87, 0.3715), (2000.88, 0.3765), (2000.90, 0.3755), (2000.93, 0.3718), (2000.98, 0.3716),
    (2000.995, 0.3735), (2001.0, 0.378),
    (2001.56, 0.378), (2001.595, 0.3763), (2001.639, 0.3738), (2001.683, 0.3704), (2001.709, 0.3695), (2001.718, 0.3738),
    (2001.745, 0.3726), (2001.789, 0.3677), (2001.815, 0.3609), (2001.85, 0.3599), (2001.886, 0.3565), (2001.912, 0.3528),
    (2001.947, 0.3519), (2001.991, 0.3491), (2002.018, 0.3701), (2002.044, 0.3778),
    (2002.48, 0.378), (2002.53, 0.3762), (2002.575, 0.3738), (2002.60, 0.3722), (2002.635, 0.3707), (2002.68, 0.3646),
    (2002.70, 0.3572), (2002.73, 0.3491), (2002.765, 0.3399), (2002.80, 0.3307), (2002.83, 0.3282), (2002.843, 0.3254),
    (2002.90, 0.3254), (2002.93, 0.3236), (2002.975, 0.3236), (2002.99, 0.3245), (2003.008, 0.3280), (2003.06, 0.3280),
    (2003.074, 0.3343), (2003.09, 0.3528), (2003.11, 0.3689), (2003.127, 0.3701), (2003.144, 0.3763), (2003.17, 0.378),
    (2003.50, 0.378), (2003.53, 0.3765), (2003.568, 0.3744), (2003.60, 0.3723), (2003.637, 0.3714), (2003.65, 0.3701),
    (2003.665, 0.3732), (2003.69, 0.3738), (2003.70, 0.3763), (2003.725, 0.3766), (2003.74, 0.3756), (2003.76, 0.3771),
    (2003.78, 0.3747), (2003.80, 0.3772), (2003.825, 0.3759), (2003.85, 0.3762), (2003.88, 0.3765), (2003.905, 0.3768),
    (2003.94, 0.3747), (2003.975, 0.3765), (2003.99, 0.3778),
    (2004.556, 0.378), (2004.60, 0.3757), (2004.626, 0.3748), (2004.661, 0.3720), (2004.688, 0.3701), (2004.705, 0.3707),
    (2004.732, 0.3698), (2004.75, 0.3732), (2004.767, 0.3757), (2004.785, 0.3744), (2004.811, 0.3723), (2004.829, 0.3748),
    (2004.864, 0.3732), (2004.89, 0.3701), (2004.908, 0.3661), (2004.935, 0.3633), (2004.961, 0.3590), (2004.979, 0.3573),
    (2004.996, 0.3581), (2005.014, 0.3602), (2005.028, 0.3627), (2005.04, 0.3683), (2005.049, 0.3778),
    (2005.437, 0.378), (2005.463, 0.3766), (2005.481, 0.3763), (2005.498, 0.3772), (2005.516, 0.3763), (2005.533, 0.3775),
    (2005.551, 0.3769), (2005.577, 0.3751), (2005.604, 0.3720), (2005.621, 0.3726), (2005.639, 0.3726), (2005.665, 0.3710),
    (2005.692, 0.3658), (2005.718, 0.3627), (2005.745, 0.3565), (2005.771, 0.3501), (2005.789, 0.3498), (2005.806, 0.3479),
    (2005.833, 0.3445), (2005.859, 0.3442), (2005.886, 0.3436), (2005.908, 0.3430), (2005.921, 0.3454), (2005.93, 0.3596),
    (2005.938, 0.3658), (2005.947, 0.3677), (2005.965, 0.3751), (2005.979, 0.3778),
    (2006.467, 0.378), (2006.493, 0.3763), (2006.511, 0.3772), (2006.528, 0.3769), (2006.555, 0.3757), (2006.572, 0.3772),
    (2006.59, 0.3775), (2006.616, 0.3757), (2006.643, 0.3738), (2006.669, 0.3714), (2006.695, 0.3683), (2006.722, 0.3633),
    (2006.748, 0.3565), (2006.775, 0.3504), (2006.792, 0.3442), (2006.819, 0.3423), (2006.836, 0.3399), (2006.854, 0.3390),
    (2006.863, 0.3516), (2006.871, 0.3701), (2006.889, 0.3744), (2006.915, 0.3754), (2006.933, 0.3763), (2006.951, 0.3751),
    (2006.968, 0.3763), (2006.986, 0.3760), (2006.998, 0.3768),
]

depth4 = [
    (1999.0, 0.378), (2001.55, 0.378), (2001.70, 0.3779), (2001.80, 0.3775), (2001.89, 0.3769), (2001.99, 0.3765),
    (2002.02, 0.3770), (2002.04, 0.3776), (2002.055, 0.378),
    (2002.62, 0.378), (2002.68, 0.3777), (2002.72, 0.3768), (2002.76, 0.3752), (2002.80, 0.3738), (2002.83, 0.3732),
    (2002.87, 0.3731), (2002.90, 0.3725), (2002.93, 0.3720), (2003.00, 0.3719), (2003.08, 0.3719), (2003.11, 0.3724),
    (2003.13, 0.3745), (2003.15, 0.3775), (2003.17, 0.378),
    (2004.70, 0.378), (2004.78, 0.3778), (2004.90, 0.3773), (2005.03, 0.3771), (2005.05, 0.3775), (2005.06, 0.378),
    (2005.55, 0.378), (2005.65, 0.3778), (2005.75, 0.3772), (2005.84, 0.3763), (2005.90, 0.3761), (2005.95, 0.3763),
    (2005.97, 0.3772), (2005.98, 0.378),
    (2006.62, 0.378), (2006.72, 0.3774), (2006.78, 0.3766), (2006.84, 0.3758), (2006.87, 0.3758), (2006.90, 0.3762),
    (2006.93, 0.3763), (2006.96, 0.3766), (2006.998, 0.3768),
]

series = [depth0, depth1, depth2, depth3, depth4]

W, H = 1920, 768
fig = plt.figure(figsize=(W / 150, H / 150), dpi=150)
left, right, top, bottom = 110.5, 1772.5, 15.5, 680.0
ax = fig.add_axes([left / W, 1 - bottom / H, (right - left) / W, (bottom - top) / H])
ax.set_facecolor("white")

LW = 1.3
for pts, col in zip(series, colors):
    pts = sorted(pts)
    ax.plot([p[0] for p in pts], [p[1] for p in pts], color=col, lw=LW,
            solid_joinstyle="round", solid_capstyle="butt", zorder=3)

ax.set_xlim(1998.6, 2007.4)
ax.set_ylim(0.25995, 0.38304)

ax.xaxis.set_major_locator(FixedLocator(x_major))
ax.xaxis.set_major_formatter(FixedFormatter([str(v) for v in x_major]))
ax.xaxis.set_minor_locator(FixedLocator(x_minor))
ax.yaxis.set_major_locator(FixedLocator(y_major))
ax.yaxis.set_major_formatter(FixedFormatter(["%.2f" % v for v in y_major]))
ax.yaxis.set_minor_locator(FixedLocator(y_minor))

ax.grid(which="major", color="#EBEBEB", lw=1.3, zorder=0)
ax.grid(which="minor", color="#EBEBEB", lw=0.65, zorder=0)
ax.set_axisbelow(True)

for s in ax.spines.values():
    s.set_color("#333333")
    s.set_linewidth(1.3)
    s.set_zorder(5)

ax.tick_params(which="major", length=3.4, width=1.3, color="#333333",
               labelsize=11, labelcolor="#4D4D4D", pad=2.75)
ax.tick_params(which="minor", length=0)

fig.text(31 / W, 1 - (top + bottom) / 2 / H, "SWC [m3/m3]", rotation=90,
         ha="center", va="center", fontsize=11.5, color="black")

# legend
fig.text(1817 / W, 1 - 228 / H, "depth", ha="left", va="center", fontsize=13.75, color="black")
leg_y = [278, 324, 370, 416, 462]
for lbl, col, yy in zip(depth_labels, colors, leg_y):
    fig.add_artist(Line2D([1822 / W, 1858 / W], [1 - yy / H, 1 - yy / H],
                          color=col, lw=LW, transform=fig.transFigure))
    fig.text(1878 / W, 1 - yy / H, lbl, ha="left", va="center", fontsize=11, color="black")

fig.savefig("out.png", dpi=150, facecolor="white")
